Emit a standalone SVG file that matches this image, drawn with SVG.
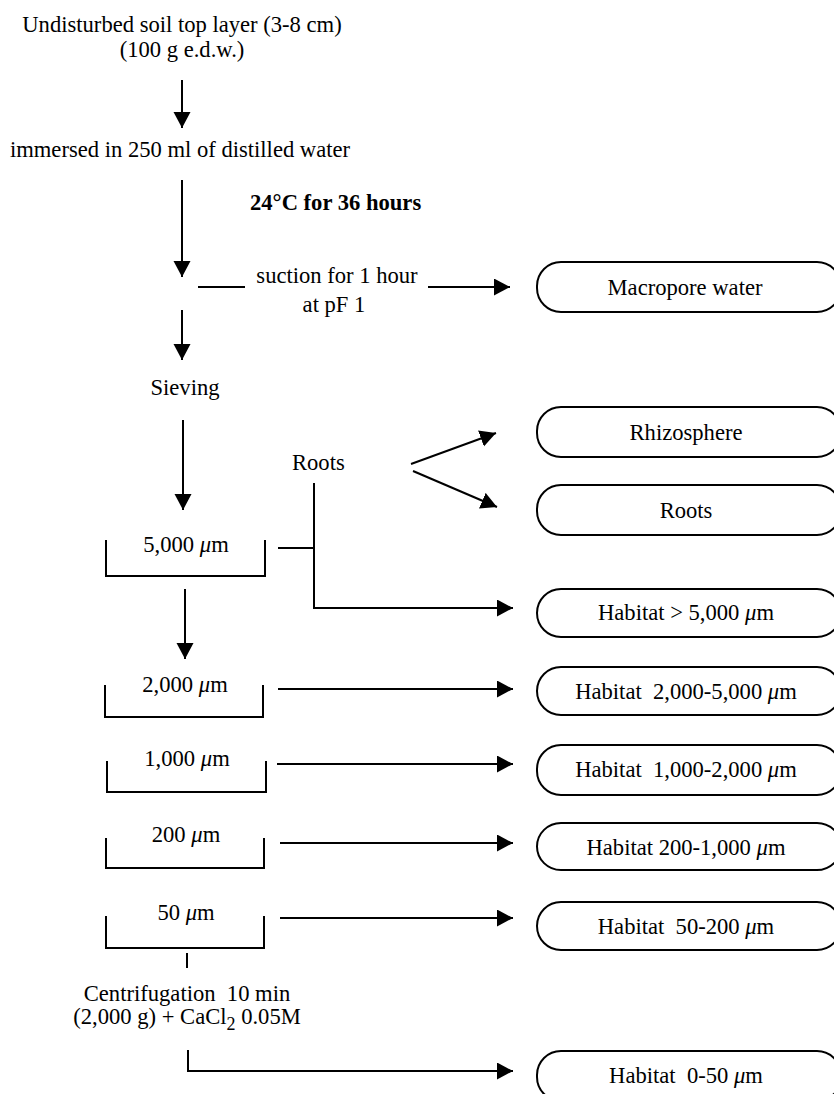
<svg xmlns="http://www.w3.org/2000/svg" width="834" height="1094" viewBox="0 0 834 1094">
<defs>
<marker id="ah" markerUnits="userSpaceOnUse" markerWidth="18" markerHeight="18" refX="16" refY="8.5" orient="auto">
<path d="M0,0 L16,8.5 L0,17 z" fill="#000"/>
</marker>
<style>
text{font-family:"Liberation Serif","Times New Roman",serif;font-size:22.6px;fill:#000;white-space:pre}
.c{text-anchor:middle}
.b{font-weight:bold}
.box{fill:#fff;stroke:#000;stroke-width:2}
.ln{fill:none;stroke:#000;stroke-width:2}
.ar{fill:none;stroke:#000;stroke-width:2;marker-end:url(#ah)}
.br{fill:none;stroke:#000;stroke-width:2}
</style>
</defs>
<rect width="834" height="1094" fill="#fff"/>

<g id="connectors">
<line class="ar" x1="182" y1="80" x2="182" y2="128"/>
<line class="ar" x1="182" y1="180" x2="182" y2="277"/>
<line class="ln" x1="198" y1="287" x2="245" y2="287"/>
<line class="ar" x1="428" y1="287" x2="510" y2="287"/>
<line class="ar" x1="182" y1="310" x2="182" y2="360"/>
<line class="ar" x1="183" y1="420" x2="183" y2="510"/>
<line class="ar" x1="411" y1="464" x2="496" y2="433"/>
<line class="ar" x1="413" y1="471" x2="497" y2="507"/>
<line class="ln" x1="278" y1="548" x2="314" y2="548"/>
<polyline class="ar" points="314,483 314,608 513,608"/>
<line class="ar" x1="185" y1="589" x2="185" y2="659"/>
<line class="ar" x1="278" y1="689" x2="513" y2="689"/>
<line class="ar" x1="277" y1="764" x2="513" y2="764"/>
<line class="ar" x1="280" y1="843" x2="513" y2="843"/>
<line class="ar" x1="280" y1="918" x2="513" y2="918"/>
<line class="ln" x1="187" y1="953" x2="187" y2="968"/>
<polyline class="ar" points="188,1050 188,1071 513,1071"/>
</g>

<g id="n-soil">
<text class="c" x="182" y="32">Undisturbed soil top layer (3-8 cm)</text>
<text class="c" x="182" y="57">(100 g e.d.w.)</text>
</g>
<g id="n-immersed">
<text class="c" x="180" y="157">immersed in 250 ml of distilled water</text>
</g>
<g id="n-incubation">
<text class="b" x="250" y="210">24°C for 36 hours</text>
</g>
<g id="n-suction">
<text class="c" x="337" y="283">suction for 1 hour</text>
<text class="c" x="334" y="312">at pF 1</text>
</g>
<g id="n-sieving">
<text class="c" x="185" y="395">Sieving</text>
</g>
<g id="n-roots-label">
<text x="292" y="470">Roots</text>
</g>

<g id="n-sieve5000">
<path class="br" d="M106,540 V576 H265 V540"/>
<text class="c" x="186" y="552">5,000 <tspan font-style="italic">μ</tspan>m</text>
</g>
<g id="n-sieve2000">
<path class="br" d="M105,685 V717 H263 V685"/>
<text class="c" x="185" y="692">2,000 <tspan font-style="italic">μ</tspan>m</text>
</g>
<g id="n-sieve1000">
<path class="br" d="M107,761 V792 H266 V761"/>
<text class="c" x="187" y="766">1,000 <tspan font-style="italic">μ</tspan>m</text>
</g>
<g id="n-sieve200">
<path class="br" d="M106,838 V868 H264 V838"/>
<text class="c" x="186" y="842">200 <tspan font-style="italic">μ</tspan>m</text>
</g>
<g id="n-sieve50">
<path class="br" d="M106,916 V948 H264 V916"/>
<text class="c" x="186" y="920">50 <tspan font-style="italic">μ</tspan>m</text>
</g>
<g id="n-centrifugation">
<text class="c" x="187" y="1001">Centrifugation  10 min</text>
<text class="c" x="187" y="1024">(2,000 g) + CaCl<tspan dy="6" font-size="18">2</tspan><tspan dy="-6"> 0.05M</tspan></text>
</g>

<g id="n-macropore">
<rect class="box" x="537" y="262" width="304" height="50" rx="24"/>
<text class="c" x="685" y="295">Macropore water</text>
</g>
<g id="n-rhizosphere">
<rect class="box" x="537" y="407" width="304" height="50" rx="24"/>
<text class="c" x="686" y="440">Rhizosphere</text>
</g>
<g id="n-roots">
<rect class="box" x="537" y="485" width="304" height="50" rx="24"/>
<text class="c" x="686" y="518">Roots</text>
</g>
<g id="n-h5000">
<rect class="box" x="537" y="589" width="304" height="48" rx="24"/>
<text class="c" x="686" y="620">Habitat &gt; 5,000 <tspan font-style="italic">μ</tspan>m</text>
</g>
<g id="n-h2000">
<rect class="box" x="537" y="667" width="304" height="48" rx="24"/>
<text class="c" x="686" y="699">Habitat  2,000-5,000 <tspan font-style="italic">μ</tspan>m</text>
</g>
<g id="n-h1000">
<rect class="box" x="537" y="745" width="304" height="50" rx="24"/>
<text class="c" x="686" y="777">Habitat  1,000-2,000 <tspan font-style="italic">μ</tspan>m</text>
</g>
<g id="n-h200">
<rect class="box" x="537" y="823" width="304" height="47" rx="24"/>
<text class="c" x="686" y="855">Habitat 200-1,000 <tspan font-style="italic">μ</tspan>m</text>
</g>
<g id="n-h50">
<rect class="box" x="537" y="902" width="304" height="48" rx="24"/>
<text class="c" x="686" y="934">Habitat  50-200 <tspan font-style="italic">μ</tspan>m</text>
</g>
<g id="n-h0">
<rect class="box" x="537" y="1051" width="304" height="50" rx="24"/>
<text class="c" x="686" y="1083">Habitat  0-50 <tspan font-style="italic">μ</tspan>m</text>
</g>
</svg>
